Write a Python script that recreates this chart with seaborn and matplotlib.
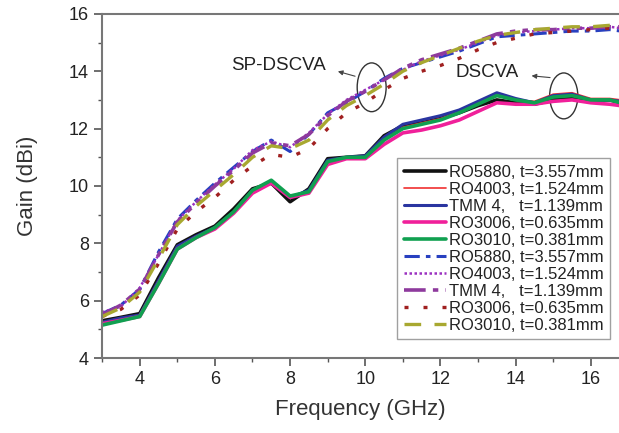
import matplotlib
matplotlib.use("Agg")
import matplotlib.pyplot as plt
from matplotlib.patches import Ellipse
from matplotlib.ticker import MultipleLocator
import seaborn as sns

sns.set_theme(style="ticks")
plt.rcParams['font.family'] = ['Liberation Sans', 'DejaVu Sans']

freq = [3, 3.5, 4, 4.5, 5, 5.5, 6, 6.5, 7, 7.5, 8, 8.5, 9, 9.5, 10, 10.5,
        11, 11.5, 12, 12.5, 13, 13.5, 14, 14.5, 15, 15.5, 16, 16.5, 16.8]

# DSCVA (solid lines)
ro5880 = [5.3, 5.42, 5.55, 6.8, 7.95, 8.3, 8.6, 9.2, 9.9, 10.1, 9.45, 9.9, 10.95, 11.0, 11.05,
          11.75, 12.1, 12.2, 12.35, 12.55, 12.8, 13.0, 12.9, 12.85, 13.0, 13.1, 13.0, 13.0, 12.9]
ro4003 = [5.25, 5.38, 5.5, 6.65, 7.85, 8.25, 8.55, 9.1, 9.8, 10.15, 9.6, 9.8, 10.85, 11.0, 11.0,
          11.6, 12.05, 12.2, 12.35, 12.6, 12.9, 13.15, 13.0, 12.95, 13.2, 13.25, 13.05, 13.05, 13.0]
tmm4 = [5.25, 5.4, 5.5, 6.7, 7.9, 8.25, 8.55, 9.1, 9.85, 10.15, 9.6, 9.85, 10.9, 11.0, 11.05,
        11.7, 12.15, 12.3, 12.45, 12.65, 12.95, 13.25, 13.05, 12.9, 13.15, 13.2, 13.0, 13.0, 12.95]
ro3006 = [5.2, 5.32, 5.45, 6.6, 7.8, 8.2, 8.5, 9.05, 9.75, 10.1, 9.6, 9.75, 10.75, 10.95, 10.95,
          11.45, 11.85, 11.95, 12.1, 12.3, 12.6, 12.9, 12.85, 12.85, 12.95, 13.0, 12.9, 12.85, 12.8]
ro3010 = [5.15, 5.3, 5.45, 6.6, 7.8, 8.2, 8.55, 9.1, 9.85, 10.2, 9.65, 9.8, 10.85, 11.0, 11.0,
          11.6, 12.0, 12.15, 12.3, 12.55, 12.85, 13.15, 13.0, 12.9, 13.1, 13.15, 13.0, 13.0, 12.9]

# SP-DSCVA (broken lines)
sp_ro5880 = [5.55, 5.85, 6.4, 7.7, 8.85, 9.5, 10.1, 10.65, 11.2, 11.6, 11.2, 11.8, 12.55, 12.9, 13.3,
             13.75, 14.1, 14.3, 14.5, 14.7, 14.95, 15.2, 15.25, 15.3, 15.35, 15.4, 15.4, 15.45, 15.4]
sp_ro4003 = [5.6, 5.8, 6.45, 7.6, 8.8, 9.45, 10.05, 10.6, 11.25, 11.55, 11.35, 11.85, 12.5, 13.0, 13.35,
             13.7, 14.05, 14.35, 14.55, 14.75, 15.0, 15.25, 15.35, 15.4, 15.45, 15.5, 15.5, 15.55, 15.5]
sp_tmm4 = [5.5, 5.85, 6.4, 7.6, 8.75, 9.4, 10.0, 10.55, 11.15, 11.5, 11.4, 11.8, 12.45, 12.95, 13.3,
           13.7, 14.1, 14.4, 14.6, 14.8, 15.05, 15.3, 15.4, 15.45, 15.45, 15.5, 15.5, 15.55, 15.55]
sp_ro3006 = [5.45, 5.7, 6.2, 7.3, 8.5, 9.1, 9.6, 10.2, 10.7, 11.1, 11.0, 11.3, 12.0, 12.55, 12.9,
             13.35, 13.75, 14.0, 14.2, 14.45, 14.75, 15.0, 15.15, 15.3, 15.35, 15.4, 15.45, 15.5, 15.5]
sp_ro3010 = [5.45, 5.75, 6.3, 7.45, 8.65, 9.3, 9.85, 10.4, 11.0, 11.4, 11.3, 11.6, 12.3, 12.8, 13.15,
             13.55, 14.0, 14.3, 14.55, 14.8, 15.05, 15.25, 15.35, 15.45, 15.5, 15.55, 15.55, 15.6, 15.6]

labels = ["RO5880, t=3.557mm", "RO4003, t=1.524mm", "TMM 4,   t=1.139mm",
          "RO3006, t=0.635mm", "RO3010, t=0.381mm"]

series = [
    (ro5880, labels[0], "#111111", 2.6, "-"),
    (ro4003, labels[1], "#f03030", 1.2, "-"),
    (tmm4, labels[2], "#2a35a0", 2.2, "-"),
    (ro3006, labels[3], "#f0209a", 2.6, "-"),
    (ro3010, labels[4], "#10a050", 2.6, "-"),
    (sp_ro5880, labels[0], "#2840c0", 2.2, (0, (5, 2, 1.5, 2))),
    (sp_ro4003, labels[1], "#9a30c0", 1.8, (0, (1, 1))),
    (sp_tmm4, labels[2], "#8e3a9d", 2.6, (0, (6, 2, 1.5, 2, 1.5, 2))),
    (sp_ro3006, labels[3], "#a02020", 2.4, (0, (1.2, 4.5))),
    (sp_ro3010, labels[4], "#a8a830", 2.4, (0, (5, 4))),
]

fig = plt.figure(figsize=(6.19, 4.33), dpi=100)
ax = fig.add_axes([0.165, 0.173, 0.835, 0.795])

for ys, lab, col, lw, ls in series:
    sns.lineplot(x=freq, y=ys, ax=ax, color=col, lw=lw, linestyle=ls, label=lab)

ax.set_xlim(3, 16.75)
ax.set_ylim(4, 16)
ax.xaxis.set_major_locator(MultipleLocator(2))
ax.xaxis.set_minor_locator(MultipleLocator(1))
ax.yaxis.set_major_locator(MultipleLocator(2))
ax.yaxis.set_minor_locator(MultipleLocator(1))
ax.tick_params(which="major", length=6, width=1.2, color="#555555", labelsize=13,
               labelcolor="#222222", direction="out")
ax.tick_params(which="minor", length=3, width=1.0, color="#555555", direction="out")

for side in ["left", "bottom", "top"]:
    ax.spines[side].set_color("#777777")
    ax.spines[side].set_linewidth(1.5)
ax.spines["right"].set_visible(False)

ax.set_xlabel("Frequency (GHz)", fontsize=16, color="#333333", labelpad=8)
ax.set_ylabel("Gain (dBi)", fontsize=16, color="#333333", labelpad=22)

# annotations
ax.text(7.7, 14.2, "SP-DSCVA", fontsize=13.5, ha="center", va="center", color="#222222")
ax.add_patch(Ellipse((10.17, 13.44), 0.77, 1.7, fill=False, ec="#333333", lw=1.0))
ax.annotate("", xy=(9.2, 14.02), xytext=(9.8, 13.8),
            arrowprops=dict(arrowstyle="-|>", color="#444444", lw=0.8, mutation_scale=7))

ax.text(13.23, 13.94, "DSCVA", fontsize=13.5, ha="center", va="center", color="#222222")
ax.add_patch(Ellipse((15.28, 13.14), 0.75, 1.6, fill=False, ec="#333333", lw=1.0))
ax.annotate("", xy=(14.35, 13.85), xytext=(14.99, 13.77),
            arrowprops=dict(arrowstyle="-|>", color="#444444", lw=0.8, mutation_scale=7))

leg = ax.legend(loc="upper left", bbox_to_anchor=(0.571, 0.581), fontsize=12,
                frameon=True, fancybox=False, handlelength=2.5, handletextpad=0.2,
                labelspacing=0.12, borderpad=0.4, borderaxespad=0)
leg.get_frame().set_edgecolor("#888888")
leg.get_frame().set_linewidth(1.0)
for t in leg.get_texts():
    t.set_color("#222222")

fig.savefig("out.png", dpi=100)
